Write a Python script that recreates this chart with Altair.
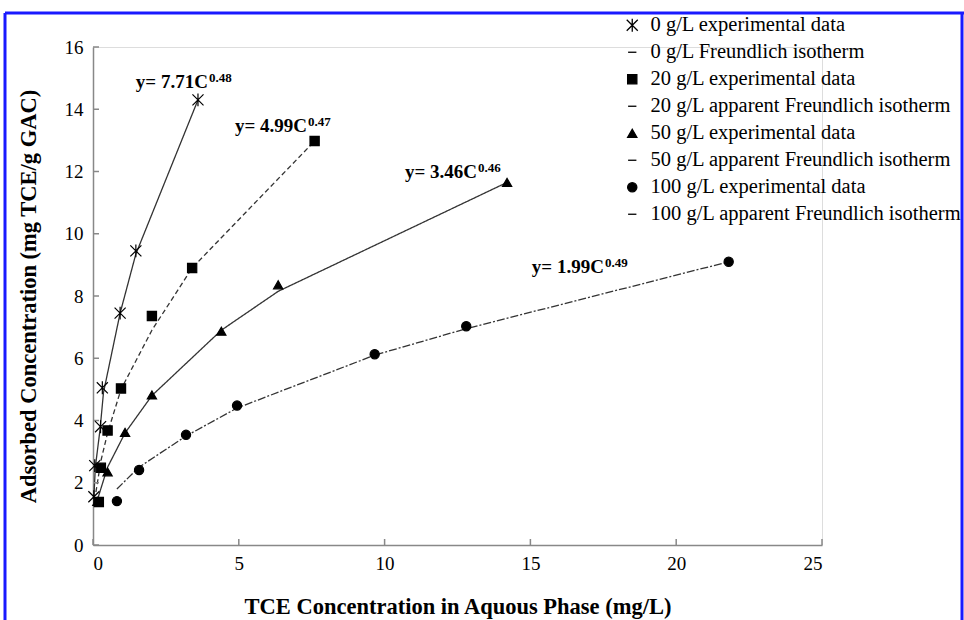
import altair as alt
import pandas as pd

x0 = [0.03, 0.06, 0.26, 0.32, 0.93, 1.47, 3.6]
y0 = [1.55, 2.55, 3.8, 5.05, 7.45, 9.45, 14.3]
x20 = [0.2, 0.27, 0.5, 0.96, 2.02, 3.4, 7.6]
y20 = [1.38, 2.48, 3.68, 5.03, 7.36, 8.9, 12.98]
x50 = [0.15, 0.5, 1.1, 2.02, 4.4, 6.35, 14.2]
y50 = [1.4, 2.35, 3.62, 4.82, 6.87, 8.36, 11.65]
x100 = [0.82, 1.58, 3.19, 4.94, 9.66, 12.8, 21.8]
y100 = [1.41, 2.41, 3.54, 4.48, 6.13, 7.03, 9.1]

# ---- isotherm lines ----
lx0 = [0.03, 0.08, 0.24, 0.36, 0.93, 1.47, 3.6]
ly0 = [1.5, 2.5, 3.7, 4.9, 7.45, 9.35, 14.3]
lx20 = [0.1, 0.27, 0.5, 0.96, 2.02, 3.4, 7.6]
ly20 = [1.7, 2.7, 3.6, 5.0, 6.9, 8.9, 12.98]
lx50 = [0.15, 0.5, 1.1, 2.02, 4.4, 6.35, 14.2]
ly50 = [1.45, 2.5, 3.6, 4.8, 6.9, 8.15, 11.65]
lx100 = [0.82, 1.58, 3.19, 4.94, 9.66, 12.8, 21.8]
ly100 = [1.8, 2.5, 3.5, 4.4, 6.1, 6.95, 9.1]

entries = [
    "0 g/L experimental data",
    "0 g/L Freundlich isotherm",
    "20 g/L experimental data",
    "20 g/L apparent Freundlich isotherm",
    "50 g/L experimental data",
    "50 g/L apparent Freundlich isotherm",
    "100 g/L experimental data",
    "100 g/L apparent Freundlich isotherm",
]

# annotations
ann_x = [3.94, 7.34, 13.17, 17.52]
ann_y = [14.69, 13.28, 11.8, 8.75]
ann_main = ["y= 7.71C", "y= 4.99C", "y= 3.46C", "y= 1.99C"]
ann_sup = ["0.48", "0.47", "0.46", "0.49"]

xticks = [0, 5, 10, 15, 20, 25]
yticks = [0, 2, 4, 6, 8, 10, 12, 14, 16]

W, H = 729, 498
FONT = "Liberation Serif"

pts = pd.concat([
    pd.DataFrame({"x": x0, "y": y0, "entry": entries[0]}),
    pd.DataFrame({"x": x20, "y": y20, "entry": entries[2]}),
    pd.DataFrame({"x": x50, "y": y50, "entry": entries[4]}),
    pd.DataFrame({"x": x100, "y": y100, "entry": entries[6]}),
])
lines = pd.concat([
    pd.DataFrame({"x": lx0, "y": ly0, "series": "0", "i": range(7)}),
    pd.DataFrame({"x": lx20, "y": ly20, "series": "20", "i": range(7)}),
    pd.DataFrame({"x": lx50, "y": ly50, "series": "50", "i": range(7)}),
    pd.DataFrame({"x": lx100, "y": ly100, "series": "100", "i": range(7)}),
])
ann = pd.DataFrame({"x": ann_x, "y": ann_y, "main": ann_main, "sup": ann_sup})

ASTER = "M-1.2,-1.2L1.2,1.2M-1.2,1.2L1.2,-1.2M0,-1.4L0,1.4"
LINE = "M-0.9,0L0.9,0"
shapes = [ASTER, LINE, "square", LINE, "triangle-up", LINE, "circle", LINE]

xs = alt.Scale(domain=[0, 25], nice=False)
ys = alt.Scale(domain=[0, 16], nice=False)

xaxis = alt.Axis(values=xticks, grid=False, ticks=False, domainColor="#888888",
                 domainWidth=1.5, labelFont=FONT, labelFontSize=19, labelColor="black",
                 labelPadding=9, title="TCE Concentration in Aquous Phase (mg/L)",
                 titleFont=FONT, titleFontSize=22.5, titleFontWeight="bold",
                 titleColor="black", titleX=W / 2, titleY=61, titleBaseline="middle")
yaxis = alt.Axis(values=yticks, grid=False, ticks=False, domainColor="#888888",
                 domainWidth=1.5, labelFont=FONT, labelFontSize=19, labelColor="black",
                 labelPadding=10, title="Adsorbed Concentration (mg TCE/g GAC)",
                 titleFont=FONT, titleFontSize=22.5, titleFontWeight="bold",
                 titleColor="black", titleX=-65, titleY=H / 2, titleBaseline="middle",
                 titleAngle=-90, titleAlign="center")

line_layer = alt.Chart(lines).mark_line(color="#333333", strokeWidth=1.3).encode(
    x=alt.X("x:Q", scale=xs, axis=xaxis),
    y=alt.Y("y:Q", scale=ys, axis=yaxis),
    strokeDash=alt.StrokeDash("series:N", scale=alt.Scale(
        domain=["0", "20", "50", "100"],
        range=[[1, 0], [5, 3], [1, 0], [8, 2, 2, 2]]), legend=None),
    order="i:Q",
)

leg = alt.Legend(title=None, orient="none", legendX=529, legendY=-32,
                 labelFont=FONT, labelFontSize=20.5, labelColor="black",
                 labelLimit=400, symbolSize=85, symbolStrokeWidth=1.3,
                 symbolOpacity=1, rowPadding=6, labelOffset=8, padding=0)

point_layer = alt.Chart(pts).mark_point(
    filled=False, fill="black", strokeWidth=1.2, size=85, opacity=1, fillOpacity=1
).encode(
    x=alt.X("x:Q", scale=xs),
    y=alt.Y("y:Q", scale=ys),
    shape=alt.Shape("entry:N", scale=alt.Scale(domain=entries, range=shapes),
                    sort=entries, legend=leg),
    color=alt.Color("entry:N", scale=alt.Scale(domain=entries, range=["black"] * 8),
                    sort=entries, legend=leg),
)

ytick_layer = alt.Chart(pd.DataFrame({"y": yticks})).mark_rule(
    color="#888888", strokeWidth=1.5).encode(
    y=alt.Y("y:Q", scale=ys), x=alt.value(0), x2=alt.value(6))
xtick_layer = alt.Chart(pd.DataFrame({"x": xticks})).mark_rule(
    color="#888888", strokeWidth=1.5).encode(
    x=alt.X("x:Q", scale=xs), y=alt.value(H), y2=alt.value(H - 6))

ann_main_layer = alt.Chart(ann).mark_text(
    font=FONT, fontSize=19, fontWeight="bold", align="right", baseline="alphabetic",
    color="black").encode(x=alt.X("x:Q", scale=xs), y=alt.Y("y:Q", scale=ys), text="main:N")
ann_sup_layer = alt.Chart(ann).mark_text(
    font=FONT, fontSize=13, fontWeight="bold", align="left", baseline="alphabetic",
    color="black", dx=1, dy=-6).encode(x=alt.X("x:Q", scale=xs), y=alt.Y("y:Q", scale=ys),
                                       text="sup:N")

one = alt.Data(values=[{"a": 1}])
BLUE = "#1a1aff"
frame_top = alt.Chart(one).mark_rule(color=BLUE, strokeWidth=3).encode(
    x=alt.value(-88), x2=alt.value(871), y=alt.value(-34))
frame_left = alt.Chart(one).mark_rule(color=BLUE, strokeWidth=3).encode(
    x=alt.value(-88), y=alt.value(-34), y2=alt.value(600))
frame_right = alt.Chart(one).mark_rule(color=BLUE, strokeWidth=3).encode(
    x=alt.value(869), y=alt.value(-34), y2=alt.value(600))

chart = alt.layer(
    line_layer, ytick_layer, xtick_layer, point_layer, ann_main_layer, ann_sup_layer,
    frame_top, frame_left, frame_right
).properties(
    width=W, height=H, autosize="none",
    padding={"left": 93, "top": 47, "right": 142, "bottom": 75},
).configure_view(stroke=None).configure(background="white")

chart.save("out.html", embed_options={"renderer": "svg", "actions": False})
